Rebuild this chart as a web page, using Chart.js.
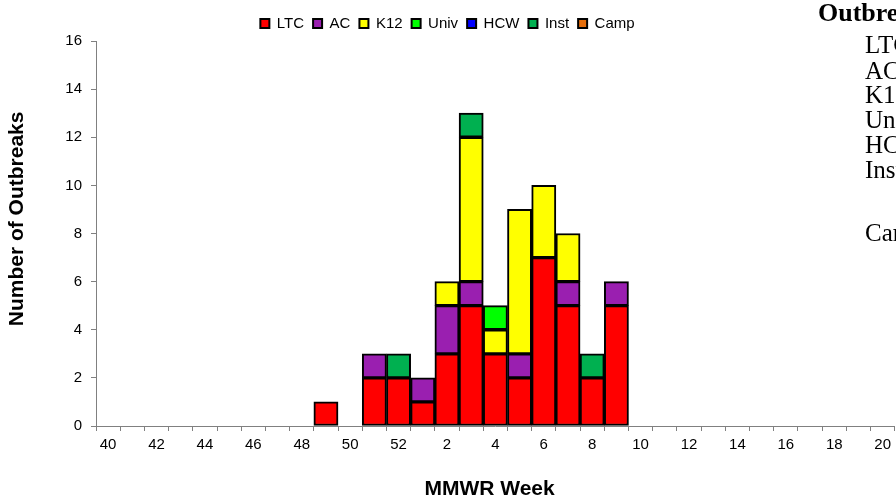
<!DOCTYPE html>
<html>
<head>
<meta charset="utf-8">
<script src="https://cdn.jsdelivr.net/npm/chart.js@4.4.0/dist/chart.umd.min.js"></script>
<style>
    body { margin: 0; background: #fff; overflow: hidden; }
    #wrap { position: relative; width: 896px; height: 498px; overflow: hidden; }
    #side { position: absolute; left: 0; top: 0; width: 896px; height: 498px; font-family: "Liberation Serif", "Times New Roman", serif; font-size: 25px; color: #000; }
    #side div { position: absolute; white-space: nowrap; line-height: 28px; }
</style>
</head>
<body>
<div id="wrap">
    <canvas id="myChart" width="896" height="498"></canvas>
    <div id="side">
        <div style="left:818px;top:-1px;font-weight:bold;font-size:26px;">Outbreaks</div>
        <div style="left:865px;top:31px;">LTC</div>
        <div style="left:865px;top:57px;">AC</div>
        <div style="left:865px;top:81px;">K12</div>
        <div style="left:865px;top:106px;">Univ</div>
        <div style="left:865px;top:131px;">HCW</div>
        <div style="left:865px;top:156px;">Inst</div>
        <div style="left:865px;top:219px;">Camp</div>
    </div>
</div>
<script>
// MMWR weeks 40..52 then 1..20
const weeks = ['40', '41', '42', '43', '44', '45', '46', '47', '48', '49', '50', '51', '52',
    '1', '2', '3', '4', '5', '6', '7', '8', '9', '10', '11', '12', '13', '14', '15', '16', '17', '18', '19', '20'];

//            40 .................................... 52 | 1 ....................... 9
const ltc  = [null, null, null, null, null, null, null, null, null, 1, null, 2, 2, 1, 3, 5, 3, 2, 7, 5, 2, 5];
const ac   = [null, null, null, null, null, null, null, null, null, null, null, 1, null, 1, 2, 1, null, 1, null, 1, null, 1];
const k12  = [null, null, null, null, null, null, null, null, null, null, null, null, null, null, 1, 6, 1, 6, 3, 2, null, null];
const univ = [null, null, null, null, null, null, null, null, null, null, null, null, null, null, null, null, 1, null, null, null, null, null];
const hcw  = [];
const inst = [null, null, null, null, null, null, null, null, null, null, null, null, 1, null, null, 1, null, null, null, null, 1, null];
const camp = [];

const y_ticks = [0, 2, 4, 6, 8, 10, 12, 14, 16];

function makeSet(name, values, color) {
    return {
        label: name,
        data: values,
        backgroundColor: color,
        borderColor: '#000000',
        borderWidth: 2,
        borderSkipped: false,
        categoryPercentage: 1.0,
        barPercentage: 1.0
    };
}

const ctx = document.getElementById('myChart').getContext('2d');
const myChart = new Chart(ctx, {
    type: 'bar',
    data: {
        labels: weeks,
        datasets: [
            makeSet('LTC', ltc, '#ff0000'),
            makeSet('AC', ac, '#9a1fb0'),
            makeSet('K12', k12, '#ffff00'),
            makeSet('Univ', univ, '#00ff00'),
            makeSet('HCW', hcw, '#0000ff'),
            makeSet('Inst', inst, '#00b050'),
            makeSet('Camp', camp, '#e46c0a')
        ]
    },
    options: {
        responsive: false,
        animation: false,
        devicePixelRatio: 1,
        layout: { padding: { top: 7, right: 1, left: 0, bottom: 0 } },
        plugins: {
            legend: {
                position: 'top',
                labels: {
                    boxWidth: 9,
                    boxHeight: 9,
                    padding: 9,
                    color: '#000',
                    font: { family: 'Liberation Sans', size: 15 }
                }
            },
            tooltip: { enabled: false }
        },
        scales: {
            x: {
                stacked: true,
                grid: { offset: true, drawOnChartArea: false, tickLength: 5, color: '#808080' },
                border: { color: '#808080', width: 1 },
                ticks: {
                    autoSkip: false,
                    maxRotation: 0,
                    color: '#000',
                    padding: 5,
                    font: { family: 'Liberation Sans', size: 15 },
                    callback: function (v, i) { return i % 2 === 0 ? weeks[i] : ''; }
                },
                title: {
                    display: true,
                    text: 'MMWR Week  ',
                    color: '#000',
                    font: { family: 'Liberation Sans', size: 21, weight: 'bold' },
                    padding: { top: 0, bottom: -4 }
                },
                afterFit: function (scale) { scale.height = 72; }
            },
            y: {
                stacked: true,
                min: 0,
                max: 16,
                afterBuildTicks: function (scale) { scale.ticks = y_ticks.map(v => ({ value: v })); },
                grid: { drawOnChartArea: false, tickLength: 5, color: '#808080' },
                border: { color: '#808080', width: 1 },
                ticks: {
                    color: '#000',
                    padding: 9,
                    font: { family: 'Liberation Sans', size: 15 }
                },
                title: {
                    display: true,
                    text: '     Number of Outbreaks',
                    color: '#000',
                    font: { family: 'Liberation Sans', size: 21, weight: 'bold' },
                    padding: { top: 5, bottom: 0 }
                },
                afterFit: function (scale) { scale.width = 96; }
            }
        }
    }
});
</script>
</body>
</html>
